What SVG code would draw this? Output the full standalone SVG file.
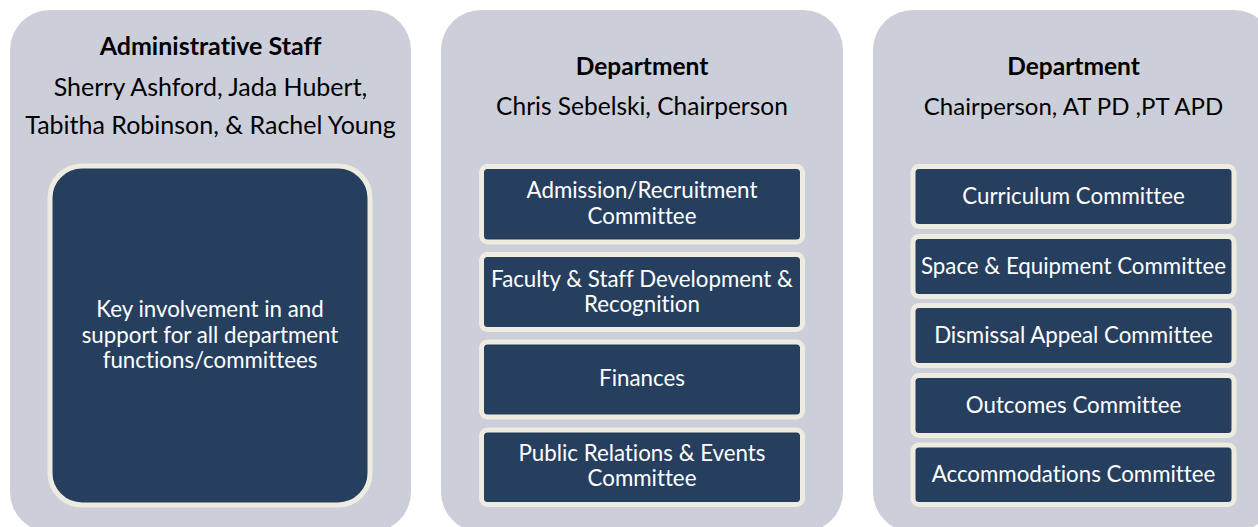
<svg xmlns="http://www.w3.org/2000/svg" width="1258" height="527" viewBox="0 0 1258 527">
<style>
.panel{fill:#CCCFD9}
.box{fill:#263F5F;stroke:#EEECE1;stroke-width:5}
text{font-family:Lato,"Open Sans",sans-serif;text-anchor:middle;font-variant-ligatures:none;font-feature-settings:"liga" 0}
.h{font-size:24.5px;font-weight:bold;fill:#000}
.s{font-size:24.5px;fill:#000}
.a{font-size:25px}
.t{font-size:22.3px;fill:#FFFFFF}
</style>
<rect width="1258" height="527" fill="#FFFFFF"/>
<g id="panel-admin">
<rect class="panel" x="10" y="10" width="401" height="522" rx="40"/>
<text class="h a" x="210.5" y="55">Administrative Staff</text>
<text class="s a" x="210.5" y="96">Sherry Ashford, Jada Hubert,</text>
<text class="s a" x="210.5" y="134">Tabitha Robinson, &amp; Rachel Young</text>
</g>
<g id="node-key-involvement">
<rect class="box" x="50" y="166" width="320" height="339" rx="32"/>
<text class="t" x="210" y="317">Key involvement in and</text>
<text class="t" x="210" y="343">support for all department</text>
<text class="t" x="210" y="368">functions/committees</text>
</g>
<g id="panel-department-1">
<rect class="panel" x="441" y="10" width="402" height="522" rx="40"/>
<text class="h" x="642" y="75">Department</text>
<text class="s" x="642" y="115">Chris Sebelski, Chairperson</text>
</g>
<g id="node-admission">
<rect class="box" x="481.5" y="166.5" width="321" height="75.5" rx="6"/>
<text class="t" x="642" y="198">Admission/Recruitment</text>
<text class="t" x="642" y="223.5">Committee</text>
</g>
<g id="node-faculty">
<rect class="box" x="481.5" y="254.5" width="321" height="75" rx="6"/>
<text class="t" x="642" y="286.5">Faculty &amp; Staff Development &amp;</text>
<text class="t" x="642" y="312">Recognition</text>
</g>
<g id="node-finances">
<rect class="box" x="481.5" y="342" width="321" height="75" rx="6"/>
<text class="t" x="642" y="386">Finances</text>
</g>
<g id="node-public-relations">
<rect class="box" x="481.5" y="430" width="321" height="74.5" rx="6"/>
<text class="t" x="642" y="461">Public Relations &amp; Events</text>
<text class="t" x="642" y="486">Committee</text>
</g>
<g id="panel-department-2">
<rect class="panel" x="873" y="10" width="401" height="522" rx="40"/>
<text class="h" x="1073.5" y="75">Department</text>
<text class="s" x="1073.5" y="115" style="font-size:24px">Chairperson, AT PD ,PT APD</text>
</g>
<g id="node-curriculum">
<rect class="box" x="913" y="166.5" width="321" height="60" rx="6"/>
<text class="t" x="1073.5" y="203.5">Curriculum Committee</text>
</g>
<g id="node-space">
<rect class="box" x="913" y="236.5" width="321" height="60" rx="6"/>
<text class="t" x="1073.5" y="273.5">Space &amp; Equipment Committee</text>
</g>
<g id="node-dismissal">
<rect class="box" x="913" y="305.5" width="321" height="60" rx="6"/>
<text class="t" x="1073.5" y="342.5">Dismissal Appeal Committee</text>
</g>
<g id="node-outcomes">
<rect class="box" x="913" y="375.5" width="321" height="60" rx="6"/>
<text class="t" x="1073.5" y="412.5">Outcomes Committee</text>
</g>
<g id="node-accommodations">
<rect class="box" x="913" y="445" width="321" height="59.5" rx="6"/>
<text class="t" x="1073.5" y="482">Accommodations Committee</text>
</g>
<g id="connectors"/>
</svg>
